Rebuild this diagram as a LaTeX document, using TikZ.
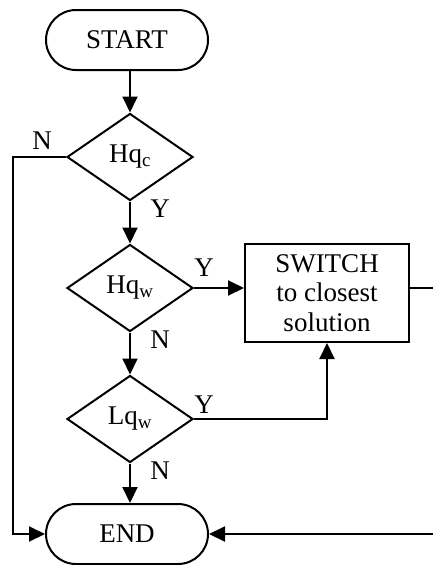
\documentclass[tikz,border=0pt]{standalone}
\usepackage{fontspec}
\setmainfont{Liberation Serif}
\usetikzlibrary{shapes.geometric,shapes.misc,arrows.meta}
\begin{document}
\begin{tikzpicture}[x=1pt,y=-1pt,
  every node/.style={font=\fontsize{27}{29.5}\selectfont},
  term/.style={draw,rounded rectangle,minimum width=162pt,minimum height=60pt,inner sep=0pt,line width=2pt},
  dec/.style={draw,diamond,minimum width=126pt,minimum height=87pt,inner sep=0pt,line width=2pt},
  proc/.style={draw,rectangle,minimum width=164pt,minimum height=98pt,inner sep=0pt,align=center,line width=2pt},
  conn/.style={line width=2pt},
  arr/.style={conn,-{Triangle[length=16pt,width=15pt]}},
  lbl/.style={inner sep=0pt}]
\useasboundingbox (0,0) rectangle (432,565);
\node[term] (start) at (127,40) {START};
\node[dec] (d1) at (130,157) {Hq\textsubscript{c}};
\node[dec] (d2) at (130,288) {Hq\textsubscript{w}};
\node[dec] (d3) at (130,419) {Lq\textsubscript{w}};
\node[proc] (sw) at (327,293) {SWITCH\\to closest\\solution};
\node[term] (end) at (127,534) {END};
\coordinate (l1) at (13,157);
\coordinate (r1) at (440,288);
\coordinate (r2) at (440,534);
\node[lbl] (n1) at (42,141) {N};
\node[lbl] (y1) at (160,209) {Y};
\node[lbl] (y2) at (204,268) {Y};
\node[lbl] (n2) at (160,340) {N};
\node[lbl] (y3) at (204,405) {Y};
\node[lbl] (n3) at (160,471) {N};
\draw[arr] (start.south -| d1.north) -- (d1.north);
\draw[arr] (d1) -- (d2);
\draw[arr] (d2) -- (d3);
\draw[arr] (d3.south) -- (d3.south |- end.north);
\draw[arr] (d1.west) -- (l1) |- (end.west);
\draw[arr] (d2.east) -- (d2.east -| sw.west);
\draw[arr] (d3.east) -| (sw.south);
\draw[arr] (sw.east |- d2.east) -- (r1) -- (r2) -- (end.east);
\end{tikzpicture}
\end{document}
